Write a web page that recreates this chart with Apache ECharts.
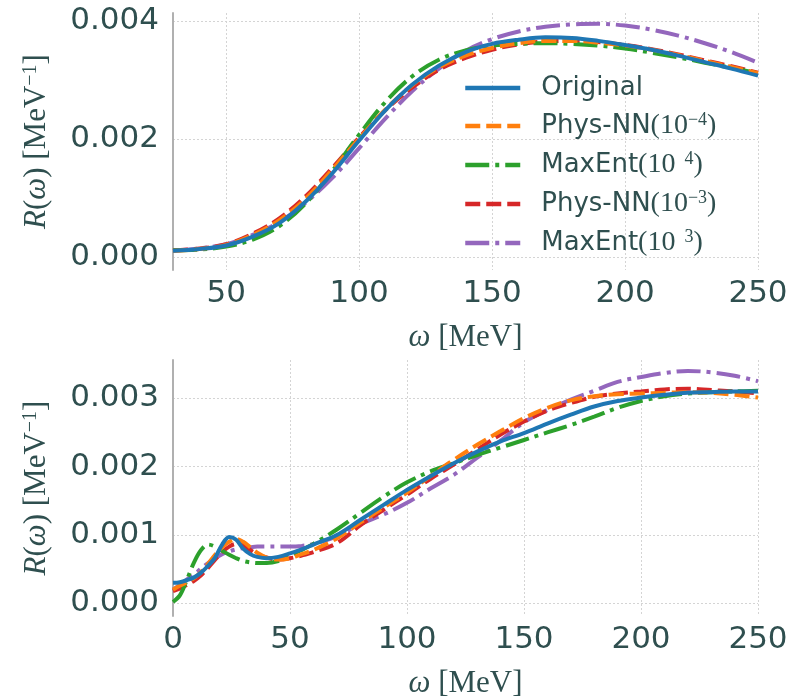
<!DOCTYPE html>
<html>
<head>
<meta charset="utf-8">
<script src="https://cdn.jsdelivr.net/npm/echarts@6/dist/echarts.min.js"></script>
<style>html,body{margin:0;padding:0;background:#fff}#c{width:794px;height:700px}</style>
</head>
<body>
<div id="c"></div>
<script>
// ---------- data ----------
var seriesNames = ['Original', 'Phys-NN(10^-4)', 'MaxEnt(10^-4)', 'Phys-NN(10^-3)', 'MaxEnt(10^-3)'];

// top panel
var topOmega = [30,40,50,60,70,80,90,100,110,120,130,140,150,160,170,180,190,200,210,220,230,240,250];
var topOriginal = [0.00011,0.00014,0.00020,0.00035,0.00058,0.00095,0.00143,0.00198,0.00250,0.00293,0.00325,0.00348,0.00362,0.00369,0.00373,0.00372,0.00367,0.00360,0.00352,0.00342,0.00331,0.00320,0.00308];
var topPhysNN4 = [0.00011,0.00014,0.00021,0.00038,0.00063,0.00100,0.00149,0.00201,0.00251,0.00292,0.00322,0.00342,0.00355,0.00363,0.00367,0.00367,0.00364,0.00359,0.00352,0.00343,0.00333,0.00323,0.00312];
var topMaxEnt4 = [0.00012,0.00013,0.00018,0.00030,0.00053,0.00092,0.00147,0.00208,0.00264,0.00307,0.00335,0.00351,0.00359,0.00362,0.00363,0.00362,0.00359,0.00354,0.00347,0.00339,0.00330,0.00321,0.00312];
var topPhysNN3 = [0.00012,0.00015,0.00022,0.00040,0.00066,0.00104,0.00152,0.00203,0.00250,0.00288,0.00318,0.00338,0.00352,0.00361,0.00366,0.00367,0.00365,0.00360,0.00353,0.00344,0.00334,0.00324,0.00313];
var topMaxEnt3 = [0.00011,0.00015,0.00022,0.00038,0.00060,0.00093,0.00135,0.00185,0.00236,0.00282,0.00320,0.00350,0.00370,0.00383,0.00391,0.00395,0.00396,0.00393,0.00386,0.00376,0.00363,0.00348,0.00330];

// bottom panel
var botOmega = [0,3,6,9,12,15,18,21,24,27,30,33,36,40,45,50,55,60,70,80,90,100,110,120,130,140,150,160,170,180,190,200,210,220,230,240,250];
var botOriginal = [0.00030,0.00031,0.00034,0.00038,0.00045,0.00055,0.00067,0.00086,0.00097,0.00093,0.00080,0.00072,0.00068,0.00066,0.00068,0.00073,0.00079,0.00086,0.00100,0.00122,0.00144,0.00166,0.00186,0.00205,0.00222,0.00237,0.00249,0.00263,0.00276,0.00288,0.00296,0.00301,0.00305,0.00308,0.00309,0.00310,0.00310];
var botPhysNN4 = [0.00020,0.00026,0.00031,0.00037,0.00046,0.00058,0.00071,0.00082,0.00090,0.00094,0.00090,0.00082,0.00074,0.00067,0.00064,0.00066,0.00072,0.00078,0.00095,0.00118,0.00140,0.00162,0.00186,0.00210,0.00232,0.00252,0.00271,0.00286,0.00297,0.00303,0.00306,0.00307,0.00308,0.00309,0.00308,0.00305,0.00301];
var botMaxEnt4 = [0.00002,0.00012,0.00035,0.00060,0.00078,0.00086,0.00083,0.00077,0.00071,0.00066,0.00062,0.00060,0.00059,0.00059,0.00062,0.00070,0.00078,0.00087,0.00108,0.00132,0.00156,0.00177,0.00193,0.00205,0.00217,0.00228,0.00239,0.00250,0.00261,0.00273,0.00286,0.00296,0.00303,0.00307,0.00309,0.00310,0.00311];
var botPhysNN3 = [0.00018,0.00022,0.00027,0.00033,0.00041,0.00052,0.00064,0.00075,0.00083,0.00087,0.00085,0.00078,0.00072,0.00067,0.00064,0.00066,0.00070,0.00075,0.00088,0.00114,0.00137,0.00159,0.00182,0.00203,0.00225,0.00247,0.00266,0.00282,0.00293,0.00302,0.00307,0.00310,0.00313,0.00314,0.00312,0.00310,0.00307];
var botMaxEnt3 = [0.00020,0.00027,0.00035,0.00042,0.00051,0.00059,0.00066,0.00072,0.00076,0.00079,0.00081,0.00082,0.00083,0.00083,0.00083,0.00083,0.00084,0.00087,0.00098,0.00116,0.00130,0.00147,0.00168,0.00188,0.00213,0.00238,0.00265,0.00283,0.00298,0.00311,0.00324,0.00331,0.00337,0.00340,0.00338,0.00333,0.00325];

// tick labels
var topXTicks = [50,100,150,200,250];
var topYTicks = [0,0.002,0.004];
var botXTicks = [0,50,100,150,200,250];
var botYTicks = [0,0.001,0.002,0.003];

// ---------- styles ----------
var TXT = '#2f4f4f';
var colors = ['#1f77b4','#ff7f0e','#2ca02c','#d62728','#9467bd'];
var dashes = ['solid',[15,6],[24,6,4,6],[15,6],[24,6,4,6]];
var legendRich = {
  a:{fontFamily:'DejaVu Sans',fontSize:26,color:TXT,padding:[0,0,0,16],lineHeight:30},
  s:{fontFamily:'Liberation Serif',fontSize:28,color:TXT,lineHeight:30},
  p:{fontFamily:'Liberation Serif',fontSize:18,color:TXT,verticalAlign:'top',lineHeight:16}
};
var legendLabels = {
  'Original':'{a|Original}',
  'Phys-NN(10^-4)':'{a|Phys-NN}{s|(10}{p|\u22124}{s|)}',
  'MaxEnt(10^-4)':'{a|MaxEnt}{s|(10}{p|  4}{s|)}',
  'Phys-NN(10^-3)':'{a|Phys-NN}{s|(10}{p|\u22123}{s|)}',
  'MaxEnt(10^-3)':'{a|MaxEnt}{s|(10}{p|  3}{s|)}'
};

function zip(xs, ys){ return xs.map(function(x,i){ return [x, ys[i]]; }); }

var splitStyle = {show:true, lineStyle:{color:'#d4d4d4', type:[2,2], width:1}};
var yNameRich = {
  i:{fontFamily:'Liberation Serif',fontStyle:'italic',fontSize:31,color:TXT},
  r:{fontFamily:'Liberation Serif',fontSize:31,color:TXT},
  p:{fontFamily:'Liberation Serif',fontSize:20,color:TXT,verticalAlign:'top',lineHeight:18}
};
var yName = '{i|R}{r|(}{i|\u03c9}{r|) [MeV}{p|\u22121}{r|]}';
var xName = '{i|\u03c9}{r| [MeV]}';

function xAxisCfg(gi, min, max, ticks){
  return {
    type:'value', gridIndex:gi, min:min, max:max,
    axisLine:{show:false, onZero:false},
    axisTick:{show:false, customValues:ticks},
    axisLabel:{customValues:ticks, color:TXT, fontFamily:'DejaVu Sans', fontSize:31, margin:8,
               formatter:function(v){return String(Math.round(v));}},
    splitLine:splitStyle,
    name:xName, nameLocation:'middle', nameGap:52,
    nameTextStyle:{rich:yNameRich}
  };
}
function yAxisCfg(gi, min, max, ticks){
  return {
    type:'value', gridIndex:gi, min:min, max:max,
    axisLine:{show:true, onZero:false, lineStyle:{color:'#b0b0b0', width:2}},
    axisTick:{show:false, customValues:ticks},
    axisLabel:{customValues:ticks, color:TXT, fontFamily:'DejaVu Sans', fontSize:31, margin:14,
               formatter:function(v){return v.toFixed(3);}},
    splitLine:splitStyle,
    name:yName, nameLocation:'middle', nameRotate:90, nameGap:121,
    nameTextStyle:{rich:yNameRich}
  };
}

var topData = [topOriginal, topPhysNN4, topMaxEnt4, topPhysNN3, topMaxEnt3];
var botData = [botOriginal, botPhysNN4, botMaxEnt4, botPhysNN3, botMaxEnt3];
var series = [];
[0,1].forEach(function(gi){
  var xs = gi===0 ? topOmega : botOmega;
  var ds = gi===0 ? topData : botData;
  ds.forEach(function(ys, k){
    series.push({
      type:'line', name:seriesNames[k], xAxisIndex:gi, yAxisIndex:gi,
      data:zip(xs, ys), smooth:0.35, symbol:'none', showSymbol:false,
      lineStyle:{color:colors[k], width:4, type:dashes[k]},
      itemStyle:{color:colors[k]},
      z: 10 - k, animation:false
    });
  });
});

var chart = echarts.init(document.getElementById('c'), null, {renderer:'canvas'});
chart.setOption({
  animation:false,
  backgroundColor:'#ffffff',
  grid:[
    {left:173, top:13, width:585, height:257, containLabel:false},
    {left:173, top:360, width:585, height:257, containLabel:false}
  ],
  xAxis:[ xAxisCfg(0, 30, 250, topXTicks), xAxisCfg(1, 0, 250, botXTicks) ],
  yAxis:[ yAxisCfg(0, -0.000216, 0.004143, topYTicks), yAxisCfg(1, -0.000185, 0.00356, botYTicks) ],
  legend:{
    data:seriesNames, orient:'vertical', left:458, top:70,
    itemWidth:55, itemHeight:14, itemGap:10,
    itemStyle:{opacity:0, borderWidth:0},
    lineStyle:{width:4.5},
    formatter:function(n){ return legendLabels[n]; },
    textStyle:{color:TXT, fontSize:26, fontFamily:'DejaVu Sans', rich:legendRich},
    inactiveColor:'#ccc'
  },
  series:series
});
</script>
</body>
</html>
